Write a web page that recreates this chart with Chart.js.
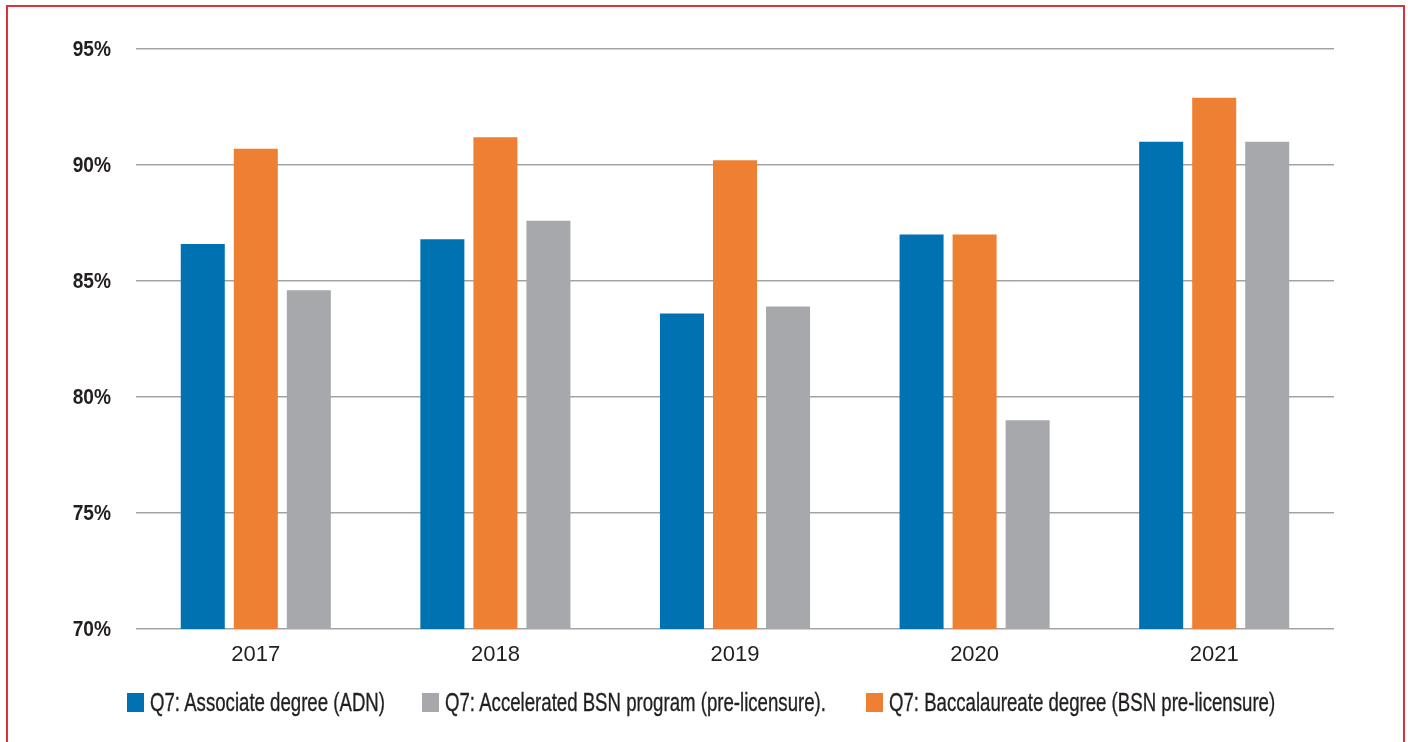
<!DOCTYPE html>
<html>
<head>
<meta charset="utf-8">
<script src="https://cdn.jsdelivr.net/npm/chart.js@4"></script>
<style>
    html, body { margin: 0; padding: 0; background: #fff; }
    body { width: 1408px; height: 742px; position: relative; overflow: hidden; }
    #frame {
        position: absolute; left: 6px; top: 5px; width: 1399px; height: 800px;
        border: 2px solid #d6343a; box-sizing: border-box;
    }
    #wrap { position: absolute; left: 0; top: 0; width: 1408px; height: 742px; }
    .item {
        position: absolute; top: 693px; height: 19px; display: flex; align-items: center;
        white-space: nowrap;
        font-family: "Liberation Sans", Arial, sans-serif; font-size: 25px; color: #231f20;
        -webkit-text-stroke: 0.35px #231f20;
    }
    .box { width: 17px; height: 19px; flex: none; }
    .txt { display: inline-block; margin-left: 6px; transform: scaleX(0.745); transform-origin: left center; }
</style>
</head>
<body>
<div id="frame"></div>
<div id="wrap"><canvas id="barChart"></canvas></div>
<div id="legend"></div>

<script>
// --- data ---
const years = ["2017", "2018", "2019", "2020", "2021"];
const adnValues = [86.6, 86.8, 83.6, 87.0, 91.0];        // Associate degree
const bsnValues = [90.7, 91.2, 90.2, 87.0, 92.9];        // Baccalaureate degree
const acceleratedValues = [84.6, 87.6, 83.9, 79.0, 91.0]; // Accelerated BSN
const seriesNames = [
    "Q7: Associate degree (ADN)",
    "Q7: Baccalaureate degree (BSN pre-licensure)",
    "Q7: Accelerated BSN program (pre-licensure)."
];
const yTicks = [70, 75, 80, 85, 90, 95];
const legendOrder = [0, 2, 1];

// --- styles ---
const colors = ["#0072b2", "#ee8033", "#a7a8ab"];
const ink = "#231f20";
const gridGray = "#a3a3a3";
const legendLeft = [127, 422, 866];

const allValues = [adnValues, bsnValues, acceleratedValues];

const datasets = allValues.map((vals, i) => ({
    label: seriesNames[i],
    data: vals,
    backgroundColor: colors[i],
    borderWidth: 0,
    categoryPercentage: 0.664,
    barPercentage: 0.83
}));

// y labels in a narrow bold face (no condensed font installed -> squeeze)
const narrowYLabels = {
    id: "narrowYLabels",
    afterDraw(chart) {
        const y = chart.scales.y;
        const c = chart.ctx;
        c.save();
        c.font = "bold 22px 'Liberation Sans', Arial, sans-serif";
        c.fillStyle = ink;
        c.textAlign = "right";
        c.textBaseline = "middle";
        y.ticks.forEach(t => {
            const py = y.getPixelForValue(t.value);
            c.save();
            c.translate(111, py);
            c.scale(0.87, 1);
            c.fillText(t.value + "%", 0, 1);
            c.restore();
        });
        c.restore();
    }
};

const ctx = document.getElementById("barChart").getContext("2d");
new Chart(ctx, {
    type: "bar",
    data: { labels: years, datasets: datasets },
    plugins: [narrowYLabels],
    options: {
        responsive: true,
        maintainAspectRatio: false,
        animation: false,
        layout: { padding: { left: 0, right: 74, top: 49, bottom: 0 } },
        plugins: { legend: { display: false }, tooltip: { enabled: false } },
        scales: {
            x: {
                grid: { display: false },
                border: { display: false },
                ticks: {
                    color: ink,
                    padding: 5,
                    font: { family: "'Liberation Sans', Arial, sans-serif", size: 22 }
                },
                afterFit: (s) => { s.height = 113; }
            },
            y: {
                min: yTicks[0],
                max: yTicks[yTicks.length - 1],
                afterBuildTicks: (s) => { s.ticks = yTicks.map(v => ({ value: v })); },
                grid: { color: gridGray, lineWidth: 1.5, drawTicks: false },
                border: { display: false },
                ticks: { display: false },
                afterFit: (s) => { s.width = 136; }
            }
        }
    }
});

// legend (order differs from bar order)
const legendEl = document.getElementById("legend");
legendOrder.forEach((i, k) => {
    const item = document.createElement("div");
    item.className = "item";
    item.style.left = legendLeft[k] + "px";
    item.innerHTML = `<span class="box" style="background:${colors[i]}"></span><span class="txt">${seriesNames[i]}</span>`;
    legendEl.appendChild(item);
});
</script>
</body>
</html>
